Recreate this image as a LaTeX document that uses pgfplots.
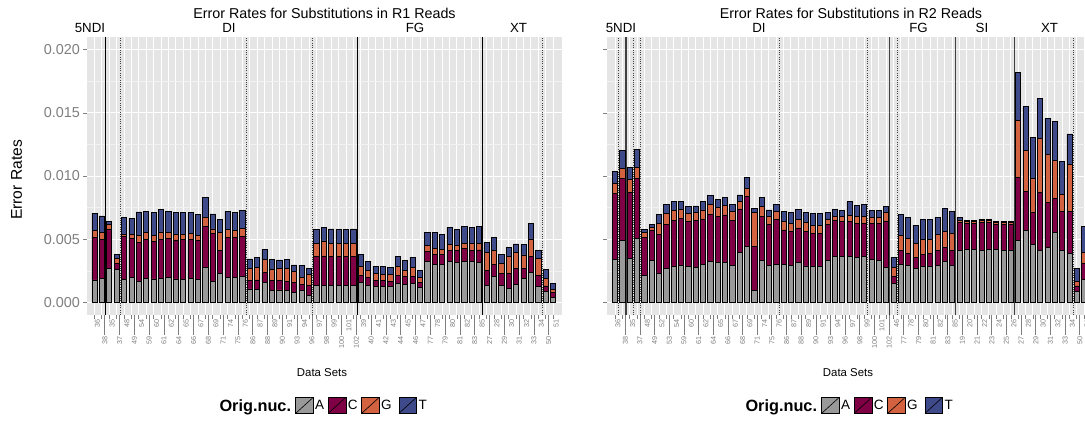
\documentclass[border=0pt]{standalone}
\usepackage{pgfplots}
\pgfplotsset{compat=1.18}
\usepackage{pgfplotstable}
\usepackage{fontspec}
\setmainfont{Liberation Sans}
\definecolor{colA}{HTML}{999999}
\definecolor{colC}{HTML}{800045}
\definecolor{colG}{HTML}{D26240}
\definecolor{colT}{HTML}{3F4A8A}
\definecolor{panelbg}{HTML}{E5E5E5}
\definecolor{minorgrid}{HTML}{F2F2F2}
\definecolor{tickgray}{HTML}{7F7F7F}
\newcommand\fs[1]{\fontsize{#1}{#1}\selectfont}
\newcommand\lo[1]{#1\,\textcolor{tickgray}{\rule[0.33em]{20pt}{0.5pt}}\kern-4pt}

\pgfplotstableread{
i A C G T
0 0.00177 0.00338 0.00053 0.00137
1 0.00190 0.00309 0.00053 0.00132
2 0.00266 0.00311 0.00042 0.00024
3 0.00261 0.00047 0.00042 0.00029
4 0.00182 0.00338 0.00018 0.00135
5 0.00195 0.00311 0.00032 0.00127
6 0.00164 0.00309 0.00058 0.00185
7 0.00190 0.00311 0.00055 0.00164
8 0.00185 0.00295 0.00053 0.00182
9 0.00190 0.00309 0.00058 0.00179
10 0.00198 0.00306 0.00047 0.00166
11 0.00185 0.00309 0.00045 0.00174
12 0.00182 0.00314 0.00042 0.00171
13 0.00190 0.00311 0.00045 0.00164
14 0.00179 0.00314 0.00040 0.00166
15 0.00274 0.00324 0.00074 0.00158
16 0.00164 0.00383 0.00034 0.00119
17 0.00230 0.00179 0.00145 0.00103
18 0.00198 0.00317 0.00063 0.00140
19 0.00198 0.00317 0.00053 0.00142
20 0.00206 0.00319 0.00061 0.00140
21 0.00106 0.00066 0.00098 0.00074
22 0.00103 0.00074 0.00100 0.00079
23 0.00158 0.00079 0.00106 0.00077
24 0.00094 0.00080 0.00090 0.00079
25 0.00098 0.00074 0.00098 0.00066
26 0.00092 0.00071 0.00106 0.00071
27 0.00077 0.00079 0.00087 0.00053
28 0.00092 0.00050 0.00053 0.00100
29 0.00058 0.00074 0.00092 0.00045
30 0.00132 0.00230 0.00106 0.00111
31 0.00137 0.00230 0.00119 0.00108
32 0.00132 0.00230 0.00106 0.00113
33 0.00132 0.00230 0.00106 0.00111
34 0.00132 0.00230 0.00106 0.00111
35 0.00132 0.00230 0.00106 0.00113
36 0.00158 0.00058 0.00066 0.00100
37 0.00137 0.00061 0.00053 0.00071
38 0.00129 0.00047 0.00053 0.00058
39 0.00124 0.00047 0.00050 0.00061
40 0.00124 0.00040 0.00058 0.00055
41 0.00150 0.00063 0.00069 0.00079
42 0.00142 0.00061 0.00053 0.00079
43 0.00150 0.00053 0.00074 0.00079
44 0.00116 0.00040 0.00042 0.00053
45 0.00322 0.00079 0.00047 0.00106
46 0.00303 0.00077 0.00047 0.00127
47 0.00301 0.00079 0.00040 0.00119
48 0.00322 0.00087 0.00050 0.00135
49 0.00317 0.00092 0.00040 0.00129
50 0.00327 0.00100 0.00040 0.00132
51 0.00327 0.00087 0.00053 0.00124
52 0.00317 0.00098 0.00053 0.00132
53 0.00132 0.00124 0.00140 0.00077
54 0.00208 0.00092 0.00113 0.00100
55 0.00137 0.00092 0.00079 0.00074
56 0.00111 0.00119 0.00132 0.00071
57 0.00145 0.00124 0.00124 0.00069
58 0.00190 0.00079 0.00106 0.00084
59 0.00235 0.00127 0.00140 0.00124
60 0.00124 0.00092 0.00132 0.00066
61 0.00084 0.00047 0.00058 0.00074
62 0.00037 0.00040 0.00026 0.00047
}\leftdata

\pgfplotstableread{
i A C G T
0 0.00340 0.00522 0.00079 0.00098
1 0.00493 0.00488 0.00079 0.00145
2 0.00351 0.00520 0.00103 0.00095
3 0.00506 0.00475 0.00084 0.00145
4 0.00211 0.00303 0.00042 0.00021
5 0.00335 0.00232 0.00026 0.00026
6 0.00230 0.00311 0.00084 0.00074
7 0.00269 0.00351 0.00084 0.00074
8 0.00282 0.00369 0.00079 0.00066
9 0.00295 0.00369 0.00071 0.00066
10 0.00282 0.00361 0.00061 0.00058
11 0.00277 0.00369 0.00063 0.00055
12 0.00301 0.00359 0.00071 0.00066
13 0.00327 0.00369 0.00082 0.00071
14 0.00317 0.00361 0.00074 0.00063
15 0.00317 0.00375 0.00074 0.00063
16 0.00295 0.00351 0.00071 0.00058
17 0.00396 0.00343 0.00058 0.00053
18 0.00446 0.00390 0.00066 0.00084
19 0.00092 0.00348 0.00269 0.00034
20 0.00330 0.00353 0.00079 0.00066
21 0.00290 0.00330 0.00058 0.00053
22 0.00303 0.00356 0.00058 0.00061
23 0.00301 0.00272 0.00066 0.00084
24 0.00295 0.00269 0.00061 0.00084
25 0.00315 0.00274 0.00070 0.00074
26 0.00288 0.00272 0.00071 0.00082
27 0.00282 0.00264 0.00061 0.00098
28 0.00282 0.00264 0.00061 0.00098
29 0.00335 0.00285 0.00037 0.00053
30 0.00361 0.00285 0.00037 0.00053
31 0.00361 0.00282 0.00040 0.00047
32 0.00361 0.00277 0.00053 0.00106
33 0.00353 0.00272 0.00053 0.00092
34 0.00361 0.00264 0.00053 0.00098
35 0.00340 0.00285 0.00047 0.00058
36 0.00335 0.00290 0.00047 0.00053
37 0.00277 0.00367 0.00066 0.00047
38 0.00150 0.00058 0.00069 0.00079
39 0.00303 0.00111 0.00113 0.00169
40 0.00290 0.00098 0.00119 0.00166
41 0.00269 0.00087 0.00111 0.00145
42 0.00282 0.00098 0.00121 0.00156
43 0.00282 0.00106 0.00113 0.00156
44 0.00290 0.00121 0.00127 0.00137
45 0.00322 0.00111 0.00127 0.00185
46 0.00295 0.00119 0.00132 0.00171
47 0.00414 0.00219 0.00018 0.00021
48 0.00422 0.00203 0.00013 0.00013
49 0.00422 0.00203 0.00013 0.00008
50 0.00409 0.00224 0.00018 0.00008
51 0.00419 0.00214 0.00018 0.00008
52 0.00419 0.00198 0.00013 0.00008
53 0.00414 0.00203 0.00013 0.00008
54 0.00409 0.00208 0.00013 0.00013
55 0.00488 0.00499 0.00456 0.00377
56 0.00572 0.00303 0.00330 0.00343
57 0.00459 0.00251 0.00272 0.00322
58 0.00409 0.00459 0.00430 0.00317
59 0.00433 0.00356 0.00383 0.00285
60 0.00551 0.00272 0.00303 0.00309
61 0.00414 0.00303 0.00137 0.00259
62 0.00388 0.00330 0.00375 0.00240
63 0.00084 0.00047 0.00037 0.00100
64 0.00182 0.00127 0.00087 0.00203
}\rightdata

\tikzset{
  solidL/.style={black, line width=0.8pt},
  solidR/.style={black!75, line width=1.2pt},
  dotL/.style={black!75, line width=0.9pt, dash pattern=on 0.9pt off 1.4pt},
}
\pgfplotsset{
  ggpanel/.style={
    anchor=south west, scale only axis, height=278pt,
    ymin=-0.001, ymax=0.021, enlargelimits=false,
    scaled y ticks=false,
    ybar stacked, bar width=0.7,
    axis background/.style={fill=panelbg},
    axis line style={draw=none},
    tick align=outside, tick pos=left,
    major tick length=4pt, minor tick length=0pt,
    tick style={draw=tickgray, line width=0.6pt},
    ytick={0,0.005,0.01,0.015,0.02},
    minor ytick={0.0025,0.0075,0.0125,0.0175},
    xmajorgrids, ymajorgrids, yminorgrids,
    major grid style={white, line width=0.9pt},
    minor grid style={minorgrid, line width=0.45pt},
    yticklabel style={font=\fs{14.4}, text=tickgray, inner sep=0pt, xshift=-3pt},
    xticklabel style={rotate=90, anchor=east, font=\fs{7.2}, text=tickgray, inner sep=0pt, yshift=-3pt},
  },
  segA/.style={fill=colA, draw=black, line width=0.6pt},
  segC/.style={fill=colC, draw=black, line width=0.6pt},
  segG/.style={fill=colG, draw=black, line width=0.6pt},
  segT/.style={fill=colT, draw=black, line width=0.6pt},
}

\newcommand\ggkey[3]{%
  \draw[fill=#2, draw=black, line width=0.6pt] (#1,7.7pt) rectangle ++(17.6pt,16pt);
  \draw[black, line width=0.6pt] (#1,7.7pt) -- ++(17.6pt,16pt);
  \node[anchor=west, inner sep=0pt, xshift=19.3pt, font=\fs{13.5}] at (#1,15.7pt) {#3};}

\begin{document}
\begin{tikzpicture}
\path[use as bounding box] (0pt,0pt) rectangle (1085pt,421pt);
\clip (0pt,0pt) rectangle (1085pt,421pt);

% ---------- left panel ----------
\begin{axis}[ggpanel, at={(87pt,106pt)}, width=475pt,
  xmin=-1, xmax=63.2,
  xtick={0,...,62},
  xticklabels={36,\lo{38},35,\lo{37},48,\lo{49},54,\lo{59},60,\lo{61},62,\lo{64},65,\lo{66},67,\lo{68},69,\lo{71},74,\lo{75},76,\lo{86},87,\lo{88},89,\lo{90},91,\lo{93},94,\lo{96},97,\lo{98},99,\lo{100},101,\lo{102},39,\lo{40},41,\lo{42},43,\lo{44},45,\lo{46},47,\lo{77},78,\lo{79},80,\lo{81},82,\lo{83},85,\lo{27},28,\lo{29},30,\lo{31},32,\lo{33},34,\lo{50},51},
  yticklabels={0.000,0.005,0.010,0.015,0.020},
]
\addplot[segA] table[x=i,y=A]{\leftdata};
\addplot[segC] table[x=i,y=C]{\leftdata};
\addplot[segG] table[x=i,y=G]{\leftdata};
\addplot[segT] table[x=i,y=T]{\leftdata};
\draw[solidL] (axis cs:1.5,-0.001) -- (axis cs:1.5,0.021);
\draw[solidL] (axis cs:35.5,-0.001) -- (axis cs:35.5,0.021);
\draw[solidL] (axis cs:52.5,-0.001) -- (axis cs:52.5,0.021);
\draw[dotL] (axis cs:3.5,-0.001) -- (axis cs:3.5,0.021);
\draw[dotL] (axis cs:20.5,-0.001) -- (axis cs:20.5,0.021);
\draw[dotL] (axis cs:29.5,-0.001) -- (axis cs:29.5,0.021);
\draw[dotL] (axis cs:60.5,-0.001) -- (axis cs:60.5,0.021);
\end{axis}

% ---------- right panel ----------
\begin{axis}[ggpanel, at={(607pt,106pt)}, width=485.9pt,
  xmin=-1.09, xmax=65.2,
  xtick={0,...,64},
  xticklabels={36,\lo{38},35,\lo{37},48,\lo{49},52,\lo{53},54,\lo{59},60,\lo{61},62,\lo{64},65,\lo{66},67,\lo{68},69,\lo{71},74,\lo{75},76,\lo{86},87,\lo{88},89,\lo{90},91,\lo{93},94,\lo{96},97,\lo{98},99,\lo{100},101,\lo{102},46,\lo{77},78,\lo{79},80,\lo{81},82,\lo{83},85,\lo{19},20,\lo{21},22,\lo{23},24,\lo{25},26,\lo{27},28,\lo{29},30,\lo{31},32,\lo{33},34,\lo{50},51},
  yticklabels={},
]
\addplot[segA] table[x=i,y=A]{\rightdata};
\addplot[segC] table[x=i,y=C]{\rightdata};
\addplot[segG] table[x=i,y=G]{\rightdata};
\addplot[segT] table[x=i,y=T]{\rightdata};
\draw[solidR] (axis cs:1.5,-0.001) -- (axis cs:1.5,0.021);
\draw[solidR] (axis cs:37.5,-0.001) -- (axis cs:37.5,0.021);
\draw[solidR] (axis cs:46.5,-0.001) -- (axis cs:46.5,0.021);
\draw[solidR] (axis cs:54.5,-0.001) -- (axis cs:54.5,0.021);
\draw[dotL] (axis cs:0.5,-0.001) -- (axis cs:0.5,0.021);
\draw[dotL] (axis cs:2.5,-0.001) -- (axis cs:2.5,0.021);
\draw[dotL] (axis cs:3.5,-0.001) -- (axis cs:3.5,0.021);
\draw[dotL] (axis cs:22.5,-0.001) -- (axis cs:22.5,0.021);
\draw[dotL] (axis cs:34.5,-0.001) -- (axis cs:34.5,0.021);
\draw[dotL] (axis cs:38.5,-0.001) -- (axis cs:38.5,0.021);
\draw[dotL] (axis cs:62.5,-0.001) -- (axis cs:62.5,0.021);
\end{axis}

% ---------- titles and labels ----------
\node[font=\fs{14.3}] at (324.5pt,408pt) {Error Rates for Substitutions in R1 Reads};
\node[font=\fs{14.3}] at (851pt,408pt) {Error Rates for Substitutions in R2 Reads};
\begin{scope}[every node/.style={font=\fs{13.3}, inner sep=0pt}]
\node at (90pt,393pt) {5NDI};
\node at (229pt,393pt) {DI};
\node at (415pt,393pt) {FG};
\node at (518.5pt,393pt) {XT};
\node at (621pt,393pt) {5NDI};
\node at (759pt,393pt) {DI};
\node at (918.5pt,393pt) {FG};
\node at (982pt,393pt) {SI};
\node at (1049.5pt,393pt) {XT};
\end{scope}
\node[font=\fs{15.6}, rotate=90] at (16.7pt,241pt) {Error Rates};
\node[font=\fs{11.4}] at (322pt,48pt) {Data Sets};
\node[font=\fs{11.4}] at (848pt,48pt) {Data Sets};

% ---------- legends ----------
\node[anchor=base west, inner sep=0pt, font=\fs{16.3}\bfseries] at (219.3pt,9.9pt) {Orig.nuc.};
\ggkey{295.7pt}{colA}{A}
\ggkey{328.3pt}{colC}{C}
\ggkey{361.7pt}{colG}{G}
\ggkey{399pt}{colT}{T}
\node[anchor=base west, inner sep=0pt, font=\fs{16.3}\bfseries] at (745.3pt,9.9pt) {Orig.nuc.};
\ggkey{821.7pt}{colA}{A}
\ggkey{854.3pt}{colC}{C}
\ggkey{887.7pt}{colG}{G}
\ggkey{925pt}{colT}{T}
\end{tikzpicture}
\end{document}
